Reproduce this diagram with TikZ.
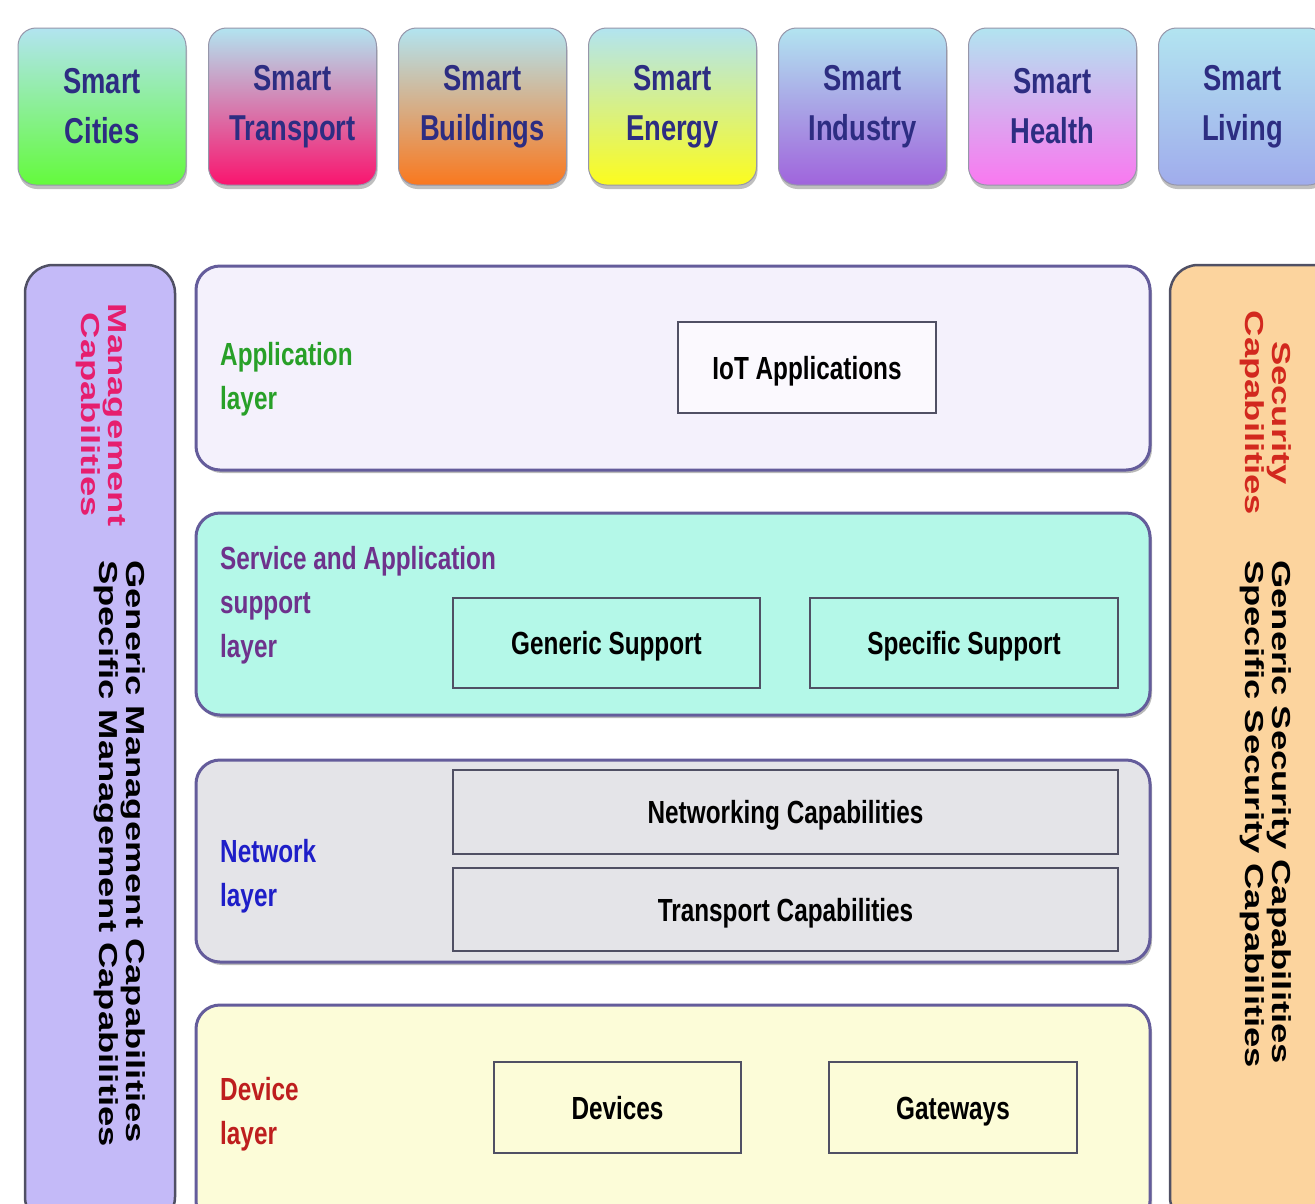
\documentclass[tikz,border=0pt]{standalone}
\usepackage{fontspec}
\setmainfont{Liberation Sans}
\newfontfamily\narrowfont{Liberation Sans}[FakeStretch=0.76]
\newfontfamily\widefont{Liberation Sans}[FakeStretch=1.4]
\usetikzlibrary{shadows}

\definecolor{skycyan}{RGB}{178,228,240}
\definecolor{citygreen}{RGB}{100,250,60}
\definecolor{transpink}{RGB}{250,20,110}
\definecolor{buildorange}{RGB}{250,120,30}
\definecolor{energyyellow}{RGB}{252,252,30}
\definecolor{industrypurple}{RGB}{160,100,220}
\definecolor{healthpink}{RGB}{250,120,240}
\definecolor{livingblue}{RGB}{160,172,236}
\definecolor{smartblue}{RGB}{45,45,130}
\definecolor{boxline}{RGB}{150,150,170}
\definecolor{applfill}{RGB}{244,241,252}
\definecolor{servfill}{RGB}{180,248,232}
\definecolor{netfill}{RGB}{228,228,232}
\definecolor{devfill}{RGB}{252,252,216}
\definecolor{layerline}{RGB}{100,92,155}
\definecolor{innerline}{RGB}{80,80,100}
\definecolor{mgmtfill}{RGB}{196,186,248}
\definecolor{secfill}{RGB}{252,212,158}
\definecolor{sideline}{RGB}{80,80,100}
\definecolor{appgreen}{RGB}{40,160,40}
\definecolor{servpurple}{RGB}{110,50,140}
\definecolor{netblue}{RGB}{30,30,200}
\definecolor{devred}{RGB}{190,30,30}
\definecolor{mgmtpink}{RGB}{230,30,110}
\definecolor{secred}{RGB}{210,40,30}

\begin{document}
\begin{tikzpicture}[x=1pt,y=-1pt,
    domainbox/.style={rounded corners=18pt, draw=boxline, line width=1pt, shade,
        top color=skycyan, minimum width=168pt, minimum height=157pt, align=center,
        text=smartblue, font=\narrowfont\bfseries\fontsize{36}{50}\selectfont,
        drop shadow={shadow xshift=1pt, shadow yshift=-4pt, opacity=0.5}},
    layerbox/.style={rounded corners=24pt, draw=layerline, line width=3pt,
        minimum width=954pt,
        drop shadow={shadow xshift=2pt, shadow yshift=-3pt, opacity=0.55}},
    innerbox/.style={draw=innerline, line width=1.5pt, inner sep=0pt,
        text height=23pt, text depth=0pt,
        font=\narrowfont\bfseries\fontsize{32}{40}\selectfont},
    layerlabel/.style={anchor=west, align=left, inner sep=0pt,
        font=\narrowfont\bfseries\fontsize{32}{44}\selectfont},
    sidebar/.style={rounded corners=28pt, draw=sideline, line width=2.5pt,
        minimum height=960pt},
    sidetext/.style={rotate=-90, inner sep=0pt,
        font=\widefont\bfseries\fontsize{26}{27}\selectfont}
]
    % Fondo
    \fill[white] (0,0) rectangle (1315,1203);
    \useasboundingbox (0,0) rectangle (1315,1203);

    % Dominios de aplicacion
    \node[domainbox, bottom color=citygreen] (cities) at (102,106.5) {Smart\\Cities};
    \node[domainbox, bottom color=transpink] (transport) at (292.5,106.5) {Smart\\Transport};
    \node[domainbox, bottom color=buildorange] (buildings) at (482.5,106.5) {Smart\\Buildings};
    \node[domainbox, bottom color=energyyellow] (energy) at (672.5,106.5) {Smart\\Energy};
    \node[domainbox, bottom color=industrypurple] (industry) at (862.5,106.5) {Smart\\Industry};
    \node[domainbox, bottom color=healthpink] (health) at (1052.5,106.5) {Smart\\Health};
    \node[domainbox, bottom color=livingblue] (living) at (1242.5,106.5) {Smart\\Living};

    % Barras laterales
    \node[sidebar, fill=mgmtfill, minimum width=150pt] (mgmtbar) at (100,745) {};
    \node[sidebar, fill=secfill, minimum width=170pt] (secbar) at (1255,745) {};

    % Capas
    \node[layerbox, fill=applfill, minimum height=204pt] (applayer) at (673,368) {};
    \node[layerbox, fill=servfill, minimum height=202pt] (servlayer) at (673,614) {};
    \node[layerbox, fill=netfill, minimum height=202pt] (netlayer) at (673,861) {};
    \node[layerbox, fill=devfill, minimum height=220pt] (devlayer) at (673,1115) {};

    % Etiquetas de las capas
    \node[layerlabel, text=appgreen] (applabel) at (220,379) {Application\\layer};
    \node[layerlabel, text=servpurple] (servlabel) at (220,605) {Service and Application\\support\\layer};
    \node[layerlabel, text=netblue] (netlabel) at (220,876) {Network\\layer};
    \node[layerlabel, text=devred] (devlabel) at (220,1114) {Device\\layer};

    % Bloques internos
    \node[innerbox, fill=white!60!applfill, minimum width=258pt, minimum height=91pt] (iotapp) at (807,367.5) {IoT Applications};
    \node[innerbox, fill=servfill, minimum width=307pt, minimum height=90pt] (gensup) at (606.5,643) {Generic Support};
    \node[innerbox, fill=servfill, minimum width=308pt, minimum height=90pt] (specsup) at (964,643) {Specific Support};
    \node[innerbox, fill=netfill, minimum width=665pt, minimum height=84pt] (netcap) at (785.5,812) {Networking Capabilities};
    \node[innerbox, fill=netfill, minimum width=665pt, minimum height=83pt] (transcap) at (785.5,909.5) {Transport Capabilities};
    \node[innerbox, fill=devfill, minimum width=247pt, minimum height=91pt] (devices) at (617.5,1107.5) {Devices};
    \node[innerbox, fill=devfill, minimum width=248pt, minimum height=91pt] (gateways) at (953,1107.5) {Gateways};

    % Textos verticales
    \node[sidetext, align=center, text=mgmtpink] (mgmttitle) at (101,415) {Management\\Capabilities};
    \node[sidetext, anchor=west, align=left] (mgmtlist) at (120,560) {Generic Management Capabilities\\Specific Management Capabilities};
    \node[sidetext, align=center, text=secred] (sectitle) at (1266,413) {Security\\Capabilities};
    \node[sidetext, anchor=west, align=left] (seclist) at (1266,560) {Generic Security Capabilities\\Specific Security Capabilities};
\end{tikzpicture}
\end{document}
